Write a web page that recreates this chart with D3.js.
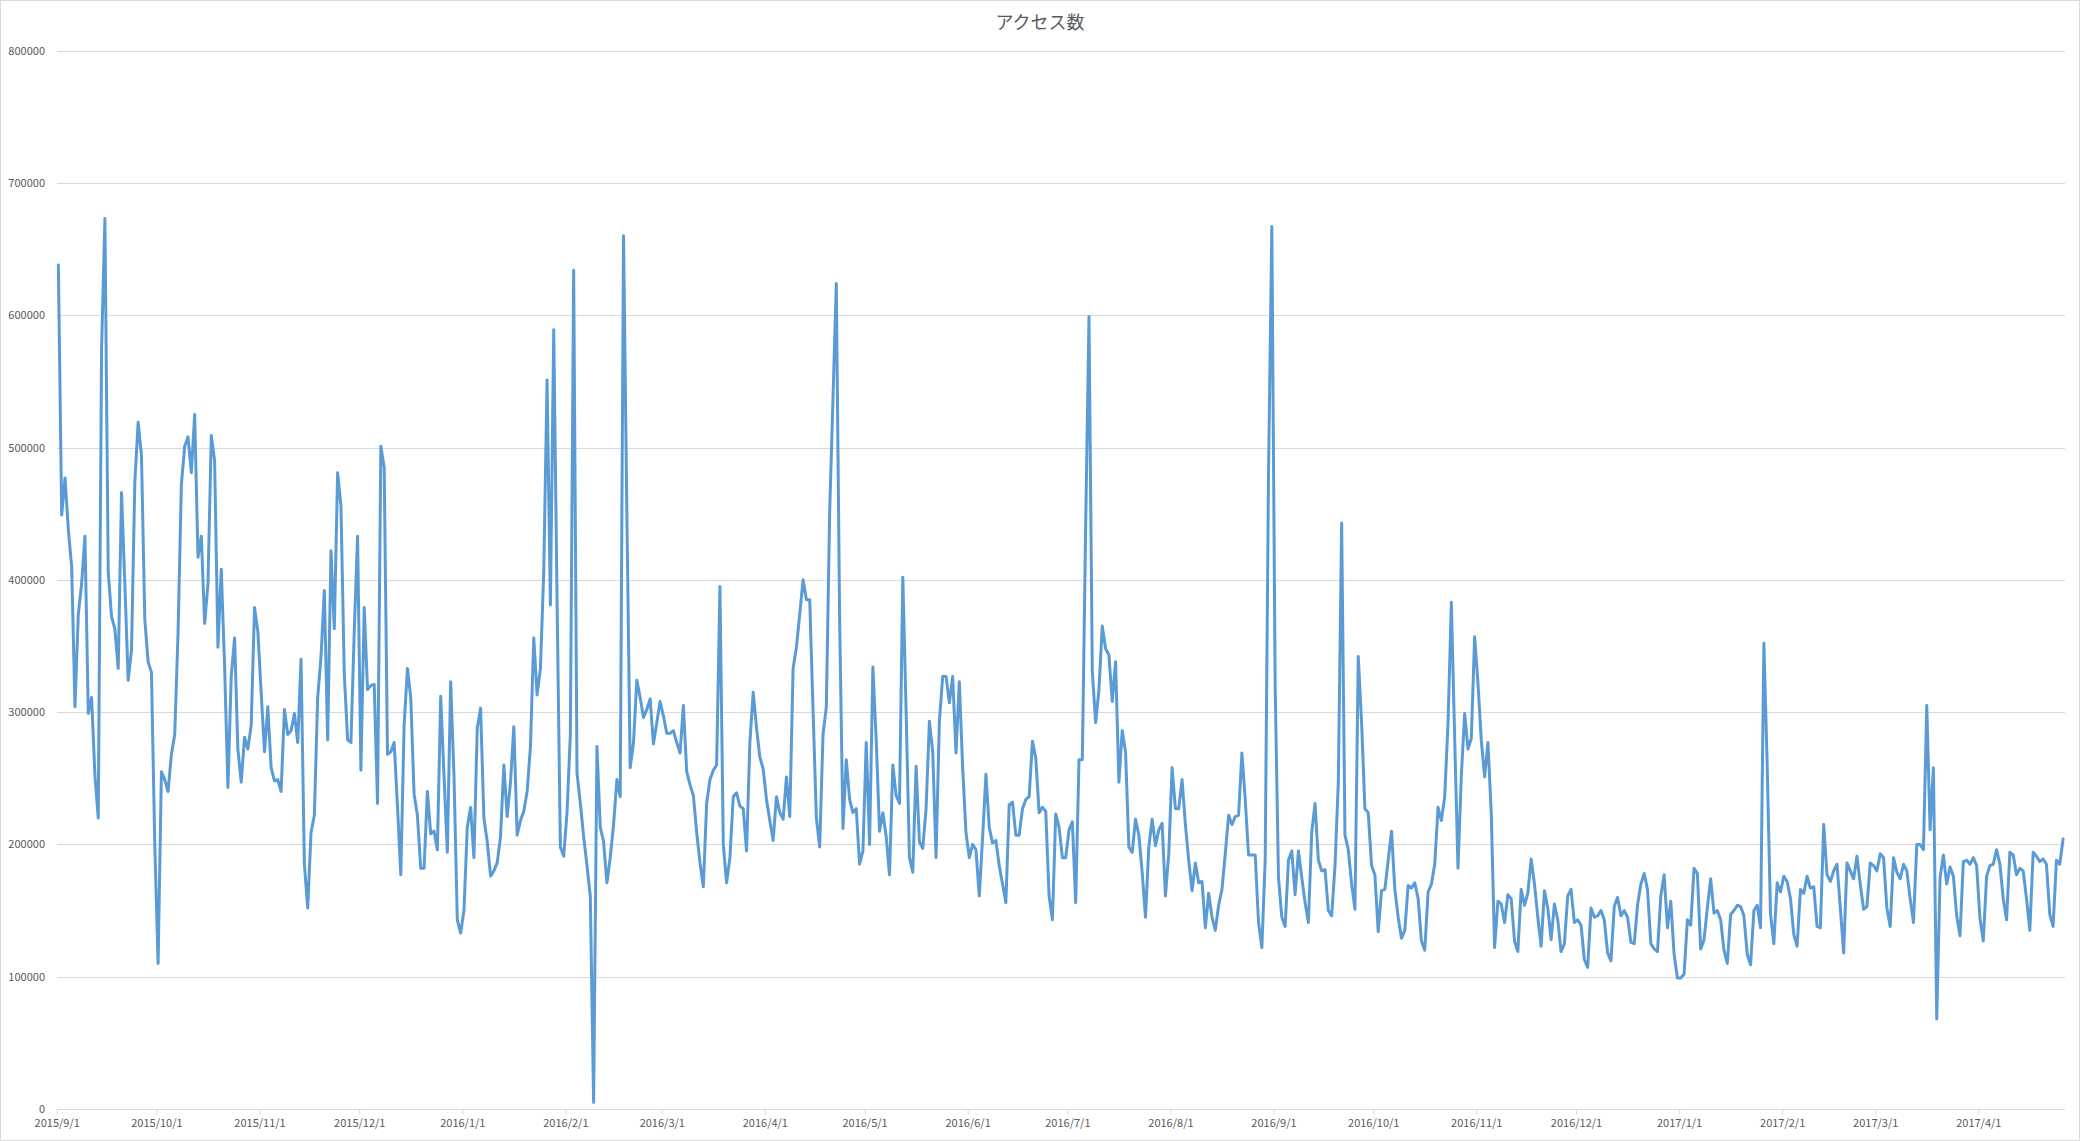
<!DOCTYPE html>
<html>
<head>
<meta charset="utf-8">
<script src="https://cdn.jsdelivr.net/npm/d3@7"></script>
<style>
html,body{margin:0;padding:0;background:#ffffff;}
svg{display:block;}
</style>
</head>
<body>
<script>
// ---------- DATA ----------
const chartTitle = "アクセス数";
const firstDay = "2015/9/1";

const sep2015 = [638000,449000,477000,438000,410000,304000,374000,397000,433000,299000,311000,252000,220000,575000,673000,406000,372000,363000,333000,466000,397000,324000,347000,474000,519000,494000,370000,338000,330000,200000];
const oct2015 = [110000,255000,249000,240000,268000,283000,360000,472000,501000,508000,481000,525000,417000,433000,367000,397000,509000,490000,349000,408000,335000,243000,327000,356000,272000,247000,281000,272000,290000,379000,361000];
const nov2015 = [315000,270000,304000,258000,248000,249000,240000,302000,283000,286000,299000,277000,340000,185000,152000,209000,222000,311000,342000,392000,279000,422000,363000,481000,456000,329000,279000,277000,361000,433000];
const dec2015 = [256000,379000,317000,320000,321000,231000,501000,485000,268000,270000,277000,229000,177000,290000,333000,311000,238000,222000,182000,182000,240000,208000,210000,196000,312000,252000,194000,323000,252000,143000,133000];
const jan2016 = [150000,213000,228000,190000,288000,303000,220000,202000,176000,180000,186000,206000,260000,221000,247000,289000,207000,218000,225000,240000,274000,356000,313000,333000,406000,551000,381000,589000,385000,198000,191000];
const feb2016 = [224000,283000,634000,254000,231000,206000,184000,161000,5000,274000,213000,202000,171000,190000,215000,249000,236000,660000,450000,258000,277000,324000,311000,296000,302000,310000,276000,292000,308000];
const mar2016 = [297000,284000,284000,286000,277000,269000,305000,255000,245000,237000,209000,186000,168000,231000,249000,256000,260000,395000,200000,171000,190000,236000,239000,229000,227000,195000,277000,315000,288000,266000,257000];
const apr2016 = [234000,218000,203000,236000,224000,219000,251000,221000,333000,349000,374000,400000,385000,385000,302000,220000,198000,283000,304000,451000,537000,624000,370000,212000,264000,234000,224000,227000,185000,195000];
const may2016 = [277000,200000,334000,279000,210000,224000,206000,177000,260000,237000,231000,402000,300000,190000,179000,259000,202000,197000,227000,293000,270000,190000,293000,327000,327000,307000,327000,269000,323000,258000,209000];
const jun2016 = [190000,200000,196000,161000,205000,253000,213000,201000,203000,184000,170000,156000,230000,232000,207000,207000,227000,234000,236000,278000,265000,224000,228000,225000,161000,143000,223000,213000,190000,190000];
const jul2016 = [211000,217000,156000,264000,264000,440000,599000,331000,292000,317000,365000,348000,343000,308000,338000,247000,286000,270000,198000,194000,219000,207000,179000,145000,198000,219000,199000,211000,216000,161000,193000];
const aug2016 = [258000,227000,227000,249000,215000,188000,165000,186000,171000,172000,137000,163000,145000,135000,154000,166000,193000,222000,215000,221000,222000,269000,234000,192000,192000,192000,141000,122000,188000,480000,667000];
const sep2016 = [320000,175000,145000,138000,188000,195000,162000,195000,175000,156000,141000,209000,231000,188000,180000,181000,150000,146000,184000,247000,443000,207000,196000,170000,151000,342000,292000,227000,224000,184000];
const oct2016 = [177000,134000,165000,166000,188000,210000,166000,145000,129000,135000,169000,167000,171000,159000,127000,120000,164000,170000,185000,228000,218000,236000,292000,383000,280000,182000,252000,299000,272000,280000,357000];
const nov2016 = [322000,279000,251000,277000,224000,122000,157000,155000,141000,162000,159000,127000,119000,166000,154000,163000,189000,170000,145000,123000,165000,152000,128000,155000,143000,119000,125000,161000,166000,141000];
const dec2016 = [143000,139000,113000,107000,152000,145000,146000,150000,143000,118000,112000,153000,160000,146000,150000,145000,126000,125000,154000,170000,178000,166000,125000,121000,119000,161000,177000,137000,157000,117000,99000];
const jan2017 = [99000,102000,143000,139000,182000,178000,121000,128000,152000,174000,148000,150000,143000,120000,110000,147000,150000,154000,153000,146000,117000,109000,150000,154000,137000,352000,260000,147000,125000,171000,164000];
const feb2017 = [176000,172000,159000,132000,123000,166000,163000,176000,167000,168000,138000,137000,215000,177000,172000,180000,185000,152000,118000,186000,180000,174000,191000,170000,151000,153000,186000,184000];
const mar2017 = [180000,193000,190000,152000,138000,190000,179000,174000,185000,180000,159000,141000,200000,200000,196000,305000,211000,258000,68000,175000,192000,170000,183000,176000,146000,131000,187000,188000,185000,190000,184000];
const apr2017 = [144000,127000,176000,184000,185000,196000,185000,159000,143000,194000,192000,177000,182000,180000,159000,135000,194000,191000,187000,189000,185000,147000,138000,188000,185000,204000];

const yTickValues = [0,100000,200000,300000,400000,500000,600000,700000,800000];
const xTickLabels = ["2015/9/1","2015/10/1","2015/11/1","2015/12/1","2016/1/1","2016/2/1","2016/3/1","2016/4/1","2016/5/1","2016/6/1","2016/7/1","2016/8/1","2016/9/1","2016/10/1","2016/11/1","2016/12/1","2017/1/1","2017/2/1","2017/3/1","2017/4/1"];

// ---------- BUILD ----------
const W = 2080, H = 1141;
const parseYMD = s => { const p = s.split("/").map(Number); return new Date(Date.UTC(p[0], p[1]-1, p[2])); };
const allValues = [].concat(sep2015,oct2015,nov2015,dec2015,jan2016,feb2016,mar2016,apr2016,may2016,jun2016,jul2016,aug2016,sep2016,oct2016,nov2016,dec2016,jan2017,feb2017,mar2017,apr2017);
const d0 = parseYMD(firstDay);
const series = allValues.map((v,i) => ({date: d3.utcHour.offset(d3.utcDay.offset(d0, i), 12), value: v}));
const tickDates = xTickLabels.map(parseYMD);

const plot = {left: 57, right: 2065, top: 50.6, bottom: 1109};

const x = d3.scaleUtc()
  .domain([tickDates[0], tickDates[tickDates.length-1]])
  .range([56.7, 1978.3]);
const y = d3.scaleLinear().domain([0, 800000]).range([plot.bottom, plot.top]);

const svg = d3.select("body").append("svg")
  .attr("width", W).attr("height", H)
  .attr("viewBox", `0 0 ${W} ${H}`);

svg.append("rect").attr("x",0.5).attr("y",0.5).attr("width",W-1).attr("height",H-1)
  .attr("fill","#ffffff").attr("stroke","#d9d9d9").attr("stroke-width",1);

const font = "'Noto Sans CJK JP','Noto Sans',sans-serif";

// title
svg.append("text").attr("x", 1040).attr("y", 29)
  .attr("text-anchor","middle").attr("font-family",font).attr("font-size",18)
  .attr("fill","#595959").text(chartTitle);

// gridlines
svg.append("g").selectAll("line").data(yTickValues.filter(v=>v>0)).join("line")
  .attr("x1", plot.left).attr("x2", plot.right)
  .attr("y1", d => Math.round(y(d))+0.5).attr("y2", d => Math.round(y(d))+0.5)
  .attr("stroke","#d9d9d9").attr("stroke-width",1);

// y axis labels
const yAxis = d3.axisLeft(y).tickValues(yTickValues).tickSize(0).tickPadding(0)
  .tickFormat(d3.format("d"));
const gy = svg.append("g").attr("transform", `translate(${plot.left-12},0)`).call(yAxis);
gy.select(".domain").remove();
gy.selectAll("text").attr("font-family",font).attr("font-size",11).attr("fill","#595959");

// x axis
const xAxis = d3.axisBottom(x).tickValues(tickDates).tickSize(5).tickPadding(5)
  .tickFormat((d,i) => xTickLabels[i]);
const gx = svg.append("g").attr("transform", `translate(0,${Math.round(plot.bottom)+0.5})`).call(xAxis);
gx.select(".domain").attr("d", `M${plot.left},0H${plot.right}`).attr("stroke","#d9d9d9");
gx.selectAll(".tick line").attr("stroke","#d9d9d9");
gx.selectAll("text").attr("font-family",font).attr("font-size",11).attr("fill","#595959");

// line
const line = d3.line().x(d => x(d.date)).y(d => y(d.value));
svg.append("path").datum(series)
  .attr("d", line).attr("fill","none")
  .attr("stroke","#5b9bd5").attr("stroke-width",3)
  .attr("stroke-linejoin","round").attr("stroke-linecap","round");
</script>
</body>
</html>
